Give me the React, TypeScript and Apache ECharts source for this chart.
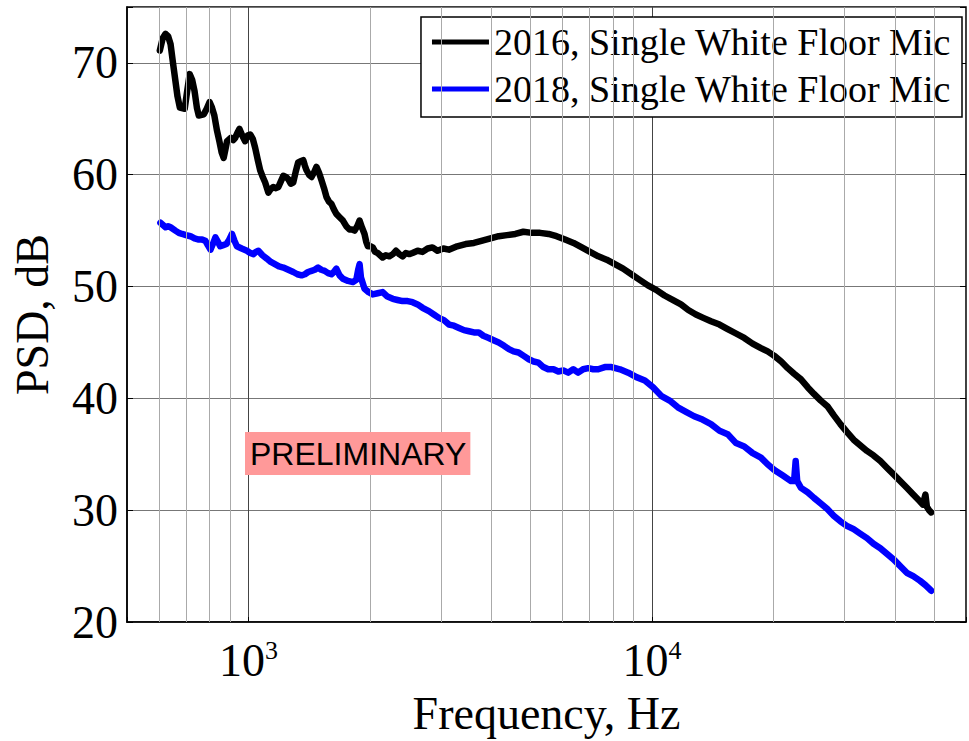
import React, { useEffect, useRef } from "react";
import * as echarts from "echarts";

// ---- Data ----
const freq2016: number[] = [
  603, 613, 623, 632, 641, 650, 659, 667, 676, 695, 705, 715, 725, 735, 745, 753, 775, 788, 801, 812,
  823, 835, 847, 858, 868, 877, 885, 905, 917, 927, 940, 950, 965, 981, 995, 1010, 1025, 1039, 1055, 1069,
  1085, 1100, 1120, 1135, 1152, 1170, 1186, 1203, 1220, 1238, 1255, 1273, 1291, 1310, 1328, 1347, 1367, 1380, 1393, 1413,
  1433, 1453, 1474, 1495, 1517, 1539, 1561, 1583, 1605, 1628, 1651, 1682, 1714, 1747, 1780, 1805, 1832, 1860, 1885, 1910,
  1939, 1958, 1977, 2005, 2032, 2060, 2090, 2120, 2150, 2190, 2235, 2280, 2321, 2365, 2409, 2455, 2503, 2550, 2625, 2700,
  2780, 2857, 2940, 3040, 3138, 3290, 3453, 3620, 3797, 3980, 4170, 4370, 4586, 4800, 5040, 5280, 5540, 5800, 6090, 6390,
  6700, 7020, 7360, 7720, 8090, 8480, 8890, 9320, 9770, 10240, 10740, 11250, 11800, 12300, 12850, 13400, 14000, 14700, 15400, 16150,
  16930, 17750, 18620, 19350, 20100, 20900, 21700, 22500, 23400, 24300, 25200, 26200, 27200, 28200, 29300, 30400, 31600, 32800, 34100, 35400,
  36800, 38200, 39700, 41200, 42800, 44400, 46100, 46900, 47600, 48000, 48600, 49200,
];
const psd2016: number[] = [
  71.1, 72.2, 72.6, 72.4, 71.7, 70.0, 68.4, 67.0, 66.0, 65.9, 67.5, 69.0, 68.5, 67.5, 66.0, 65.3, 65.4, 65.9, 66.5, 66.0,
  65.3, 64.0, 63.0, 62.0, 61.5, 62.3, 63.0, 63.3, 63.1, 63.3, 63.8, 64.1, 63.5, 63.0, 63.5, 63.6, 63.2, 62.4, 61.3, 60.4,
  59.8, 59.3, 58.4, 58.7, 58.9, 58.8, 58.9, 59.4, 59.9, 59.8, 59.6, 59.2, 59.3, 60.3, 61.1, 61.2, 61.3, 60.8, 60.4, 60.0,
  59.8, 60.2, 60.7, 60.2, 59.5, 58.8, 58.0, 57.6, 57.4, 56.9, 56.5, 56.2, 55.9, 55.4, 55.1, 55.1, 55.0, 55.4, 55.9, 55.3,
  54.7, 54.0, 53.6, 53.6, 53.5, 53.1, 53.0, 52.8, 52.6, 52.8, 52.7, 52.9, 53.2, 52.9, 52.7, 53.0, 52.9, 53.0, 53.2, 53.1,
  53.4, 53.5, 53.2, 53.4, 53.3, 53.6, 53.8, 53.9, 54.1, 54.3, 54.5, 54.6, 54.7, 54.9, 54.8, 54.8, 54.7, 54.5, 54.2, 53.9,
  53.5, 53.1, 52.7, 52.4, 52.0, 51.6, 51.1, 50.6, 50.1, 49.7, 49.2, 48.8, 48.4, 47.9, 47.5, 47.2, 46.9, 46.6, 46.2, 45.8,
  45.4, 44.9, 44.5, 44.2, 43.8, 43.3, 42.7, 42.2, 41.7, 41.0, 40.4, 39.8, 39.3, 38.5, 37.7, 37.0, 36.3, 35.8, 35.3, 34.9,
  34.4, 33.8, 33.2, 32.6, 32.0, 31.4, 30.8, 30.5, 31.4, 30.3, 30.0, 29.8,
];

const freq2018: number[] = [
  605, 614, 623, 632, 641, 659, 672, 685, 700, 718, 735, 753, 768, 782, 793, 805, 816, 828, 840, 851,
  866, 882, 896, 910, 923, 936, 962, 991, 1010, 1029, 1043, 1058, 1083, 1110, 1136, 1163, 1190, 1220, 1255, 1291,
  1322, 1354, 1380, 1405, 1433, 1460, 1488, 1515, 1545, 1575, 1605, 1628, 1651, 1682, 1714, 1765, 1815, 1850, 1870, 1885,
  1900, 1939, 1985, 2032, 2090, 2150, 2210, 2278, 2340, 2409, 2480, 2550, 2625, 2700, 2800, 2880, 2965, 3050, 3140, 3230,
  3324, 3420, 3520, 3620, 3720, 3820, 3940, 4050, 4170, 4300, 4420, 4540, 4670, 4810, 4950, 5090, 5230, 5380, 5530, 5700,
  5860, 6030, 6200, 6380, 6560, 6750, 6950, 7150, 7360, 7640, 7940, 8330, 8730, 9150, 9600, 10060, 10560, 11060, 11590, 12140,
  12720, 13340, 14000, 14700, 15400, 16150, 16930, 17760, 18620, 19340, 20100, 21100, 22100, 22500, 22700, 22900, 23400, 24300, 25200, 26200,
  27200, 28200, 29300, 30400, 31600, 32800, 34100, 35400, 36800, 38200, 39700, 41200, 42800, 44400, 46100, 47600, 49200,
];
const psd2018: number[] = [
  55.7, 55.5, 55.3, 55.4, 55.3, 55.0, 54.8, 54.7, 54.6, 54.5, 54.3, 54.2, 54.2, 54.1, 53.7, 53.3, 53.8, 54.4, 54.0, 53.6,
  53.7, 53.8, 54.2, 54.7, 54.1, 53.6, 53.4, 53.2, 53.0, 52.9, 53.1, 53.2, 52.8, 52.5, 52.2, 52.0, 51.8, 51.7, 51.5, 51.3,
  51.1, 51.0, 51.1, 51.3, 51.4, 51.5, 51.7, 51.5, 51.4, 51.2, 51.1, 51.3, 51.6, 51.0, 50.7, 50.5, 50.4, 50.6, 51.5, 52.0,
  50.8, 49.8, 49.5, 49.3, 49.4, 49.5, 49.1, 48.9, 48.8, 48.7, 48.7, 48.6, 48.4, 48.1, 47.8, 47.5, 47.2, 47.0, 46.6, 46.5,
  46.3, 46.1, 46.0, 45.9, 45.9, 45.6, 45.4, 45.2, 45.0, 44.7, 44.4, 44.2, 44.1, 43.8, 43.5, 43.3, 43.2, 42.8, 42.6, 42.6,
  42.4, 42.5, 42.3, 42.6, 42.3, 42.6, 42.7, 42.6, 42.6, 42.8, 42.8, 42.6, 42.3, 41.9, 41.6, 41.0, 40.2, 39.8, 39.2, 38.8,
  38.4, 38.1, 37.7, 37.1, 36.8, 36.0, 35.7, 35.1, 34.7, 34.1, 33.6, 33.1, 32.6, 32.6, 34.4, 32.6, 32.0, 31.6, 31.1, 30.6,
  30.1, 29.5, 29.0, 28.6, 28.3, 27.9, 27.5, 27.0, 26.6, 26.1, 25.6, 25.0, 24.4, 24.1, 23.7, 23.3, 22.8,
];

const seriesNames: string[] = ["2016, Single White Floor Mic", "2018, Single White Floor Mic"];
const minorGridFreqs: number[] = [
  600, 700, 800, 900, 2000, 3000, 4000, 5000, 6000, 7000, 8000, 9000, 20000, 30000, 40000, 50000,
];
const yTicks: number[] = [20, 30, 40, 50, 60, 70];
const xRange: number[] = [500, 60000];
const yRange: number[] = [20, 75];

const SERIF = "'Liberation Serif', 'Times New Roman', Times, serif";

export default function App() {
  const ref = useRef<HTMLDivElement>(null);

  useEffect(() => {
    if (!ref.current) return;
    const chart = echarts.init(ref.current, undefined, { renderer: "svg" });
    const pair = (xs: number[], ys: number[]) => xs.map((x, i) => [x, ys[i]]);

    chart.setOption({
      animation: false,
      backgroundColor: "#fff",
      grid: {
        left: 127,
        right: -1,
        top: 7,
        bottom: 119,
        show: true,
        borderColor: "#000",
        borderWidth: 1.5,
        backgroundColor: "transparent",
      },
      legend: {
        orient: "vertical",
        right: 7,
        top: 17,
        backgroundColor: "#fff",
        borderColor: "#000",
        borderWidth: 1.5,
        borderRadius: 0,
        padding: [6, 11, 9, 11],
        itemWidth: 57,
        itemHeight: 5,
        itemGap: 9,
        icon: "rect",
        data: seriesNames,
        textStyle: {
          fontFamily: SERIF,
          fontSize: 38,
          lineHeight: 38,
          color: "#000",
        },
      },
      xAxis: {
        type: "log",
        logBase: 10,
        min: xRange[0],
        max: xRange[1],
        axisLine: { show: true, lineStyle: { color: "#000", width: 1.5 } },
        axisTick: { show: true, inside: true, length: 5, lineStyle: { color: "#000" } },
        splitLine: { show: true, lineStyle: { color: "#444", width: 1 } },
        axisLabel: {
          margin: 15,
          formatter: (v: number) => {
            const e = Math.log10(v);
            const r = Math.round(e);
            if (Math.abs(e - r) < 1e-6 && (r === 3 || r === 4)) return `{a|10}{b|${r}}`;
            return "";
          },
          rich: {
            a: { fontFamily: SERIF, fontSize: 46, lineHeight: 46, color: "#000" },
            b: { fontFamily: SERIF, fontSize: 26, lineHeight: 46, color: "#000", verticalAlign: "top", padding: [0, 0, 22, 0] },
          },
        },
        name: "Frequency, Hz",
        nameLocation: "middle",
        nameGap: 68,
        nameTextStyle: { fontFamily: SERIF, fontSize: 46, color: "#000" },
      },
      yAxis: [
        {
          type: "value",
          min: yRange[0],
          max: yRange[1],
          interval: 10,
          axisLine: { show: true, lineStyle: { color: "#000", width: 1.5 } },
          axisTick: { show: true, inside: true, length: 6, lineStyle: { color: "#000" } },
          splitLine: { show: true, lineStyle: { color: "#777", width: 1 } },
          axisLabel: {
            margin: 9,
            fontFamily: SERIF,
            fontSize: 46,
            color: "#000",
            formatter: (v: number) => (yTicks.includes(v) ? String(v) : ""),
          },
          name: "PSD, dB",
          nameLocation: "middle",
          nameRotate: 90,
          nameGap: 72,
          nameTextStyle: { fontFamily: SERIF, fontSize: 46, color: "#000" },
        },
        {
          type: "value",
          position: "right",
          min: yRange[0],
          max: yRange[1],
          interval: 10,
          axisLine: { show: false },
          axisTick: { show: true, inside: true, length: 6, lineStyle: { color: "#000" } },
          splitLine: { show: false },
          axisLabel: { show: false },
        },
      ],
      series: [
        {
          type: "line",
          name: "__grid",
          data: [],
          z: 1,
          silent: true,
          markLine: {
            silent: true,
            symbol: "none",
            animation: false,
            label: { show: false },
            lineStyle: { color: "#aaa", width: 1, type: "solid" },
            data: minorGridFreqs.map((f) => ({ xAxis: f })),
          },
        },
        {
          type: "line",
          name: seriesNames[0],
          data: pair(freq2016, psd2016),
          showSymbol: false,
          symbol: "none",
          z: 3,
          color: "#000",
          lineStyle: { color: "#000", width: 6.5, join: "round", cap: "round" },
        },
        {
          type: "line",
          name: seriesNames[1],
          data: pair(freq2018, psd2018),
          showSymbol: false,
          symbol: "none",
          z: 3,
          color: "#0000ff",
          lineStyle: { color: "#0000ff", width: 6.5, join: "round", cap: "round" },
        },
      ],
      graphic: [
        {
          type: "text",
          left: 245,
          top: 432,
          z: 10,
          style: {
            text: "PRELIMINARY",
            fontFamily: "'Liberation Sans', Arial, Helvetica, sans-serif",
            fontSize: 32,
            lineHeight: 33,
            fill: "#000",
            backgroundColor: "#ff9999",
            padding: [5, 4, 5, 5],
          },
        },
      ],
    });

    return () => chart.dispose();
  }, []);

  return (
    <div
      ref={ref}
      style={{ position: "fixed", left: 0, top: 0, width: 969, height: 741, background: "#fff" }}
    />
  );
}
